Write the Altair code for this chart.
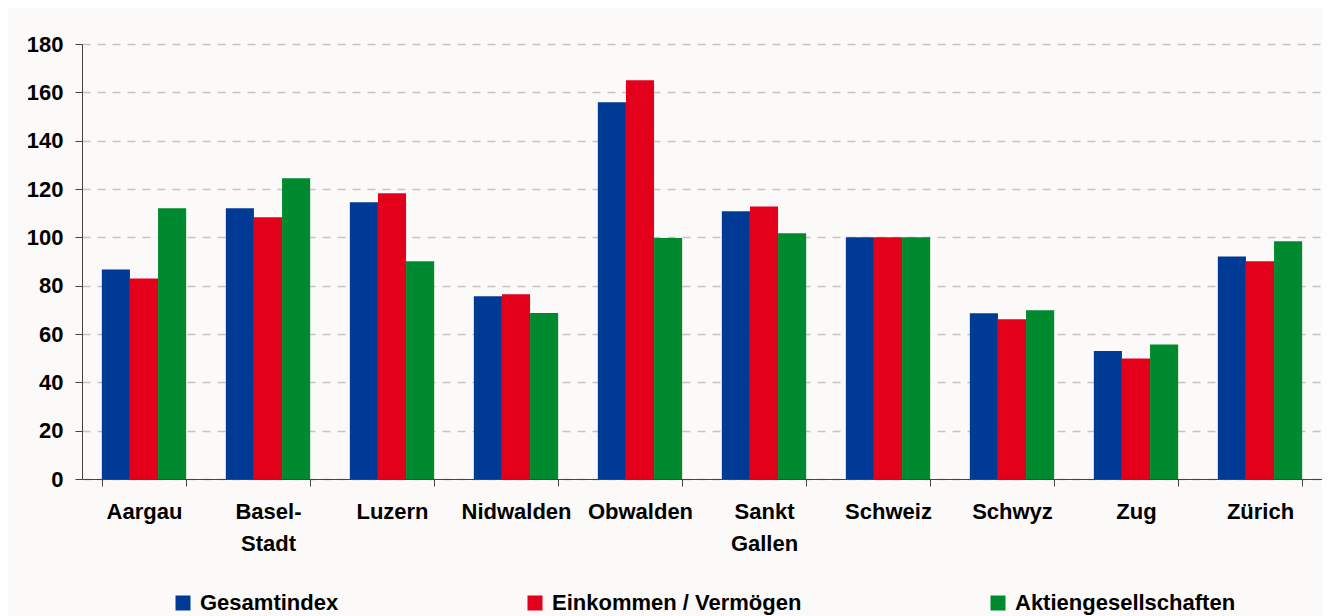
import altair as alt
import pandas as pd

categories = ["Aargau", "Basel-Stadt", "Luzern", "Nidwalden", "Obwalden",
              "Sankt Gallen", "Schweiz", "Schwyz", "Zug", "Zürich"]
series = ["Gesamtindex", "Einkommen / Vermögen", "Aktiengesellschaften"]
colors = ["#003A94", "#E3001B", "#008A2F"]

gesamtindex = [86.7, 112.0, 114.5, 75.6, 155.9, 110.8, 100.0, 68.6, 53.0, 92.1]
einkommen = [83.0, 108.3, 118.2, 76.4, 165.0, 112.8, 100.0, 66.1, 49.9, 90.1]
aktien = [112.0, 124.4, 90.1, 68.7, 99.7, 101.7, 100.0, 69.8, 55.7, 98.4]

rows = []
for s, vals in zip(series, [gesamtindex, einkommen, aktien]):
    for c, v in zip(categories, vals):
        rows.append({"Kanton": c, "Serie": s, "Wert": v})
df = pd.DataFrame(rows)

FONT = "Liberation Sans"

chart = alt.Chart(df).mark_bar().encode(
    x=alt.X("Kanton:N", sort=categories,
            scale=alt.Scale(paddingInner=0.32, paddingOuter=0.16),
            axis=alt.Axis(title=None, labelAngle=0, tickBand="extent",
                          labelFont=FONT, labelFontSize=22, labelFontWeight="bold",
                          labelColor="#000000", labelPadding=15, labelLineHeight=32,
                          labelExpr="datum.label == 'Basel-Stadt' ? ['Basel-', 'Stadt'] : datum.label == 'Sankt Gallen' ? ['Sankt', 'Gallen'] : datum.label",
                          domainColor="#444444", tickColor="#444444", tickSize=7,
                          grid=False)),
    xOffset=alt.XOffset("Serie:N", sort=series),
    y=alt.Y("Wert:Q", scale=alt.Scale(domain=[0, 180], nice=False),
            axis=alt.Axis(title=None, values=list(range(0, 181, 20)),
                          labelFont=FONT, labelFontSize=22, labelFontWeight="bold",
                          labelColor="#000000", labelPadding=12,
                          domainColor="#444444", tickColor="#444444", tickSize=7,
                          grid=True, gridColor="#C4C4C4", gridDash=[8, 7],
                          gridWidth=1.5)),
    color=alt.Color("Serie:N", sort=series,
                    scale=alt.Scale(domain=series, range=colors),
                    legend=alt.Legend(title=None, orient="none", legendX=90, legendY=548,
                                      direction="horizontal", columns=3,
                                      symbolType="square", symbolSize=225,
                                      symbolStrokeWidth=0, symbolOpacity=1,
                                      labelFont=FONT, labelFontSize=22,
                                      labelFontWeight="bold", labelColor="#000000",
                                      labelOffset=6, columnPadding=185,
                                      labelLimit=400)),
).properties(
    width=1240, height=435,
    autosize=alt.AutoSizeParams(type="none"),
    padding={"left": 74, "top": 36, "right": 0, "bottom": 137},
    background="#FBFAF8",
).configure_view(stroke=None)

chart.save("out.html", embed_options={"renderer": "svg", "actions": False})
